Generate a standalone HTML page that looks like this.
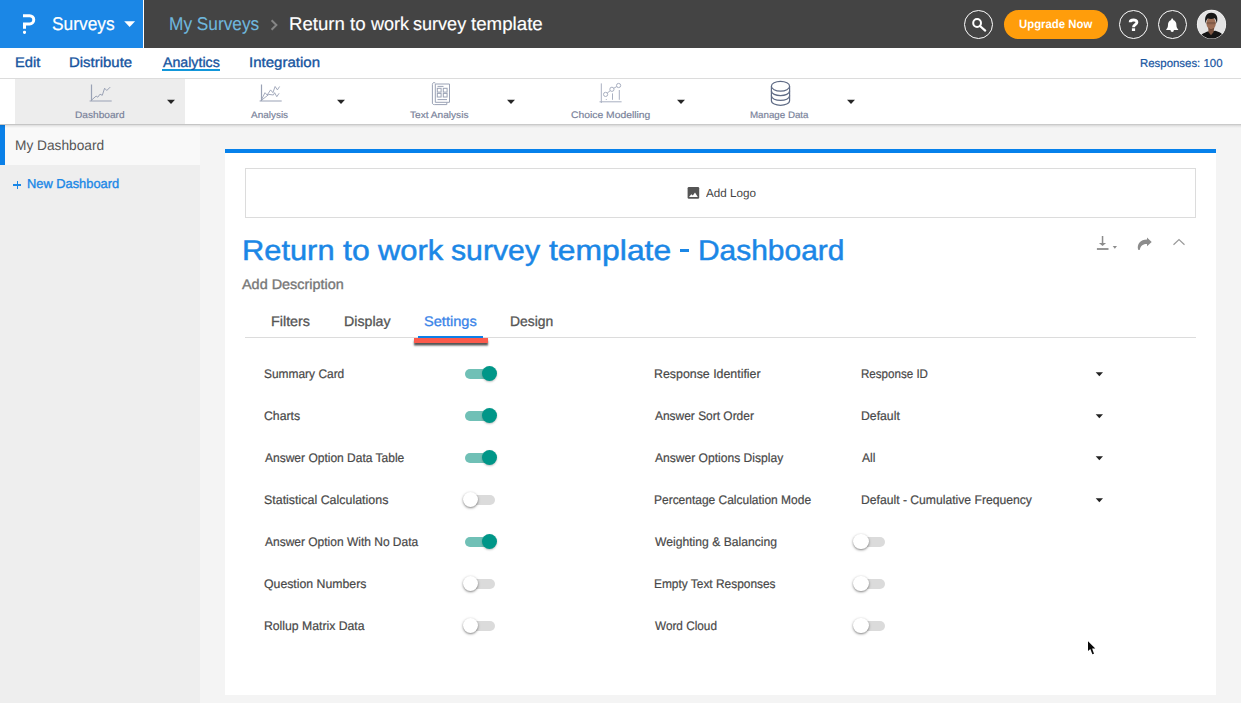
<!DOCTYPE html>
<html>
<head>
<meta charset="utf-8">
<title>Dashboard</title>
<style>
*{box-sizing:border-box;margin:0;padding:0}
html,body{width:1241px;height:703px;overflow:hidden}
body{font-family:"Liberation Sans",sans-serif;text-rendering:geometricPrecision;background:#f4f4f4;position:relative;color:#444}
.abs{position:absolute}
.t{position:absolute;white-space:nowrap;line-height:1;transform-origin:0 50%}
/* top bar */
#topbar{left:0;top:0;width:1241px;height:48px;background:#444444}
#brand{left:0;top:0;width:143px;height:48px;background:#1b87e6}
#brandsep{left:143px;top:0;width:1px;height:48px;background:#fff}
.ring{top:10px;width:29px;height:29px;border-radius:50%;border:1.2px solid #fff}
/* nav */
#nav{left:0;top:48px;width:1241px;height:31px;background:#fff;border-bottom:1px solid #dcdcdc}
#nav .t{color:#1c5ea8;font-size:14px}
/* toolbar */
#toolbar{left:0;top:79px;width:1241px;height:45px;background:#fff}
.tb{position:absolute;top:0;width:170px;height:45px}
.tb.act{background:#ececec}
.tb .lbl{position:absolute;left:0;width:140px;text-align:center;top:30px;font-size:11px;line-height:11px;color:#7b8398}
.tb .car{position:absolute;left:152px;top:20px;width:0;height:0;border-left:4px solid transparent;border-right:4px solid transparent;border-top:4px solid #222}
.tb svg{position:absolute}
/* sidebar */
#side{left:0;top:124px;width:200px;height:579px;background:#eeeeee}
#sideact{left:0;top:125px;width:200px;height:40px;background:#f9f9f9;border-left:5px solid #0a80e8}
/* card */
#card{left:225px;top:149px;width:991px;height:546px;background:#fff;border-top:4px solid #0681eb}
#logo{left:245px;top:168px;width:951px;height:50px;border:1px solid #dcdcdc;background:#fff}
#tabline{left:245px;top:337px;width:951px;height:1px;background:#dcdcdc}
.lab{font-size:13px;color:#444}
.sel .car{position:absolute;left:1095px;width:0;height:0;border-left:4px solid transparent;border-right:4px solid transparent;border-top:4px solid #222}
/* toggles */
.tg{position:absolute;width:36px;height:16px}
.tg .tr{position:absolute;left:2.5px;top:3.5px;width:29.6px;height:10px;border-radius:5px;background:#dbdbdb}
.tg .kn{position:absolute;left:0;top:0;width:15.5px;height:15.5px;border-radius:50%;background:#fff;box-shadow:0 1px 2.5px rgba(0,0,0,.5)}
.tg.on .tr{background:#70c0b6}
.tg.on .kn{left:19.4px;width:15px;height:15px;top:.2px;background:#009688;box-shadow:0 1px 2px rgba(0,0,0,.25)}
</style>
</head>
<body>
<!-- TOP BAR -->
<div class="abs" id="topbar"></div>
<div class="abs" id="brand"></div>
<div class="abs" id="brandsep"></div>
<!-- logo -->
<svg class="abs" style="left:20px;top:12px" width="20" height="24" viewBox="20 12 20 24">
 <path d="M23 15.7 H29.6 A4.15 4.15 0 0 1 29.6 24 H24.5 V28.7" fill="none" stroke="#fff" stroke-width="3" stroke-linejoin="miter"/>
 <rect x="23" y="30.7" width="3" height="3.2" rx="1.3" fill="#fff"/>
</svg>
<!-- brand caret -->
<svg class="abs" style="left:124px;top:21px" width="12" height="7" viewBox="0 0 12 7"><path d="M0.2 0.3 H11.1 L5.65 5.9 Z" fill="#fff"/></svg>
<!-- breadcrumb chevron -->
<svg class="abs" style="left:269px;top:18px" width="10" height="14" viewBox="269 18 10 14"><path d="M271.6 20.2 L276.4 25 L271.6 29.8" fill="none" stroke="#858585" stroke-width="2"/></svg>
<!-- search -->
<div class="abs ring" style="left:964px"></div>
<svg class="abs" style="left:970px;top:16px" width="18" height="18" viewBox="970 16 18 18">
 <circle cx="977.1" cy="23" r="3.9" fill="none" stroke="#fff" stroke-width="2"/>
 <path d="M980 26 L985.2 30.6" stroke="#fff" stroke-width="2.2" stroke-linecap="round"/>
</svg>
<!-- upgrade -->
<div class="abs" style="left:1004px;top:10px;width:104px;height:29px;border-radius:15px;background:#ff9d0b"></div>
<!-- help -->
<div class="abs ring" style="left:1119px"></div>
<svg class="abs" style="left:1127px;top:16px" width="14" height="17" viewBox="1127 16 14 17">
 <path d="M1130.2 22.2 C1130.2 19.4 1136.9 19 1136.9 22.3 C1136.9 24.5 1133.5 24.7 1133.5 27.2" fill="none" stroke="#fff" stroke-width="2.9"/>
 <rect x="1131.9" y="28.3" width="3.2" height="2.7" fill="#fff"/>
</svg>
<!-- bell -->
<div class="abs ring" style="left:1158px"></div>
<svg class="abs" style="left:1164px;top:17px" width="16" height="17" viewBox="1164 17 16 17">
 <path d="M1172.2 18.6 C1173 18.6 1173.3 19.2 1173.2 19.9 C1175.6 20.6 1176.4 22.6 1176.4 24.8 C1176.4 27 1177 28.3 1178.2 29.5 V30 H1166.2 V29.5 C1167.4 28.3 1168 27 1168 24.8 C1168 22.6 1168.8 20.6 1171.2 19.9 C1171.1 19.2 1171.4 18.6 1172.2 18.6 Z" fill="#fff"/>
 <path d="M1170.5 30 H1173.9 A1.7 1.9 0 0 1 1170.5 30 Z" fill="#fff"/>
</svg>
<!-- avatar -->
<svg class="abs" style="left:1196px;top:9px" width="31" height="31" viewBox="0 0 31 31">
 <defs><clipPath id="av"><circle cx="15.5" cy="15.4" r="14.2"/></clipPath></defs>
 <circle cx="15.5" cy="15.4" r="14.6" fill="#fff"/>
 <g clip-path="url(#av)">
  <rect width="31" height="31" fill="#e4e4e4"/>
  <path d="M2 31 C3.5 25.5 8 24.2 11.5 22.6 L19.5 21.8 C23 23 27.5 24 29 31 Z" fill="#151515"/>
  <path d="M12.3 18.5 L12.4 23 L15 26.2 L17.6 23 L18.3 18.5 Z" fill="#7d5541"/>
  <ellipse cx="15.1" cy="14.2" rx="4.7" ry="6.1" fill="#9d6f57"/>
  <path d="M10.6 13 H19.6 V15.2 H10.6 Z" fill="#6e4c3c" opacity=".55"/>
  <path d="M9.6 14.6 C8 8 10.4 3.8 15.2 3.8 C20.6 3.8 22.6 8 20.7 14.6 C20.4 11.8 19.6 10.2 18.6 9.3 C16.3 10.3 13.3 10 11.8 9.5 C10.6 10.6 10 12 9.6 14.6 Z" fill="#161616"/>
  <path d="M11.6 17.6 C12.8 21.2 17.6 21.2 18.7 17.6 C17.8 21.6 12.6 21.6 11.6 17.6Z" fill="#3c2820"/>
 </g>
</svg>

<!-- NAV -->
<div class="abs" id="nav"></div>
<div class="abs" style="left:162px;top:69px;width:58px;height:2px;background:#1297da"></div>

<!-- TOOLBAR -->
<div class="abs" id="toolbar"></div>
<div class="abs" style="left:15px;top:79px;width:170px;height:45px;background:#ededed"></div>
<svg class="abs" style="left:0;top:79px" width="900" height="45" viewBox="0 79 900 45">
 <path d="M167 99.7 H175 L171 104 Z" fill="#262626"/>
 <path d="M337 99.7 H345 L341 104 Z" fill="#262626"/>
 <path d="M507 99.7 H515 L511 104 Z" fill="#262626"/>
 <path d="M677 99.7 H685 L681 104 Z" fill="#262626"/>
 <path d="M847 99.7 H855 L851 104 Z" fill="#262626"/>
 <path d="M91.5 84.5 V101.5 M89.6 101 H111.7" fill="none" stroke="#9aa2b5" stroke-width="1.2"/>
 <polyline points="91.0,100.6 96.1,96.1 97.8,97.2 100.0,94.2 102.3,95.3 104.6,88.2 106.8,90.5 110.2,87.1" fill="none" stroke="#9aa2b5" stroke-width="1"/>
 <path d="M261.5 84.5 V101.5 M259.6 101 H281.7" fill="none" stroke="#9aa2b5" stroke-width="1.2"/>
 <polyline points="261.0,100.6 265.0,92.7 267.2,95.0 270.6,89.9 272.9,92.7 275.1,86.5 277.4,89.9 279.6,86.5" fill="none" stroke="#9aa2b5" stroke-width="0.9"/>
 <polyline points="261.0,100.6 268.9,94.4 273.4,95.0 274.6,92.7 276.8,96.7 279.1,93.3" fill="none" stroke="#9aa2b5" stroke-width="0.9"/>
 <g fill="none" stroke="#9aa2b5" stroke-width="1">
  <path d="M435.3 84 H449.5 V102.3 H435.3 Z"/>
  <path d="M435.3 83 C433.5 82 432.4 83 432.4 84.5 V103 C432.4 104.3 433.4 104.6 434.5 104.6 H446.8 V102.5"/>
  <rect x="437.3" y="88.3" width="3.8" height="3.8"/><rect x="443.3" y="88.3" width="3.8" height="3.8"/>
  <rect x="437.3" y="93.4" width="3.8" height="3.6"/><rect x="443.3" y="93.4" width="3.8" height="3.6"/>
  <path d="M437.5 86.4 H443.5 M437.5 99.6 H447"/>
 </g>
 <g fill="none" stroke="#a9b0c1" stroke-width="1">
  <path d="M601.3 83.4 V103 M599.5 101.8 H621.6"/>
  <circle cx="605.6" cy="94.4" r="2.1"/><circle cx="611.9" cy="89.3" r="2.1"/><circle cx="618.6" cy="85.5" r="2.1"/>
  <path d="M607.2 93.1 L610.3 90.6 M613.7 88.3 L616.8 86.5"/>
  <path d="M612.5 93.4 V99.8 M619.3 90 V99.8 M606.3 99 V99.9"/>
 </g>
 <g fill="none" stroke="#5f6b85" stroke-width="1.2">
  <ellipse cx="780.5" cy="86.2" rx="9.1" ry="4.9"/>
  <path d="M771.4 86.2 V100.4 C771.4 106.9 789.6 106.9 789.6 100.4 V86.2"/>
  <path d="M771.4 90.8 C771.4 97.2 789.6 97.2 789.6 90.8 M771.4 95.6 C771.4 102 789.6 102 789.6 95.6"/>
 </g>
</svg>

<!-- SIDEBAR -->
<div class="abs" id="side"></div>
<div class="abs" id="sideact"></div>
<div class="abs" style="left:0;top:124px;width:1241px;height:4px;background:linear-gradient(rgba(0,0,0,.21),rgba(0,0,0,.07) 45%,rgba(0,0,0,0))"></div>
<div class="abs" style="left:13.2px;top:184.2px;width:8px;height:1.4px;background:#1b87e6"></div>
<div class="abs" style="left:16.5px;top:181px;width:1.4px;height:8px;background:#1b87e6"></div>

<!-- CARD -->
<div class="abs" id="card"></div>
<div class="abs" id="logo"></div>
<svg class="abs" style="left:687px;top:186px" width="13" height="14" viewBox="687 186 13 14">
 <rect x="687.6" y="186.9" width="11.6" height="11.9" rx="1.3" fill="#555"/>
 <path d="M689 196.9 L691.3 194.2 L692.8 195.5 L695 192.6 L697.8 196.9 Z" fill="#fff"/>
</svg>
<!-- title action icons -->
<svg class="abs" style="left:1094px;top:234px" width="96" height="18" viewBox="1094 234 96 18">
 <path d="M1101.8 236.1 H1103.3 V242.9 H1106.1 L1102.55 245.9 L1098.9 242.9 H1101.8 Z" fill="#8c8c8c"/>
 <rect x="1096.9" y="248.1" width="11.6" height="1.8" fill="#8c8c8c"/>
 <path d="M1112.7 246.1 H1117 L1114.85 248.7 Z" fill="#8c8c8c"/>
 <path d="M1147 237.4 L1151.7 241.9 L1147 246.3 V244 C1143.6 243.9 1140.7 245.2 1139.7 250 L1138.1 249.8 C1136.7 244 1140.4 239.8 1147 239.6 Z" fill="#8c8c8c"/>
 <path d="M1173.5 244.8 L1179 239.5 L1184.5 244.8" fill="none" stroke="#9a9a9a" stroke-width="1.2"/>
</svg>
<div class="abs" style="left:679.6px;top:249.3px;width:9px;height:2.7px;background:#1b87e6"></div>
<div class="abs" id="tabline"></div>
<div class="abs" style="left:418px;top:336px;width:65px;height:2px;background:#0c7fe9"></div>
<div class="abs" style="left:414px;top:338px;width:73.6px;height:5px;background:#fc5a4c;box-shadow:0 2.5px 2px rgba(40,40,40,.8)"></div>
<div class="tg on" style="left:462.5px;top:365.5px"><div class="tr"></div><div class="kn"></div></div>
<div class="tg on" style="left:462.5px;top:407.5px"><div class="tr"></div><div class="kn"></div></div>
<div class="tg on" style="left:462.5px;top:449.5px"><div class="tr"></div><div class="kn"></div></div>
<div class="tg" style="left:462.5px;top:491.5px"><div class="tr"></div><div class="kn"></div></div>
<div class="tg on" style="left:462.5px;top:533.5px"><div class="tr"></div><div class="kn"></div></div>
<div class="tg" style="left:462.5px;top:575.5px"><div class="tr"></div><div class="kn"></div></div>
<div class="tg" style="left:462.5px;top:617.5px"><div class="tr"></div><div class="kn"></div></div>
<div class="tg" style="left:853px;top:533.5px"><div class="tr"></div><div class="kn"></div></div>
<div class="tg" style="left:853px;top:575.5px"><div class="tr"></div><div class="kn"></div></div>
<div class="tg" style="left:853px;top:617.5px"><div class="tr"></div><div class="kn"></div></div>
<svg class="abs" style="left:1094px;top:360px" width="12" height="160" viewBox="1094 360 12 160">
 <path d="M1095.7 372.3 H1103 L1099.35 376.3 Z" fill="#222"/>
 <path d="M1095.7 414.3 H1103 L1099.35 418.3 Z" fill="#222"/>
 <path d="M1095.7 456.3 H1103 L1099.35 460.3 Z" fill="#222"/>
 <path d="M1095.7 498.3 H1103 L1099.35 502.3 Z" fill="#222"/>
</svg>
<!-- cursor -->
<svg class="abs" style="left:1085px;top:638px" width="16" height="20" viewBox="0 0 16 20">
 <path d="M3 3.3 V12.9 L5.3 10.9 L7.4 16.3 L9 15.7 L7.1 10.6 L10.3 10.5 Z" fill="#0a0a0a" stroke="#fff" stroke-width="0.9" stroke-linejoin="round" paint-order="stroke"/>
</svg>
<div class="t" style="left:52.26px;top:15px;font-size:18.5px;color:#ffffff;-webkit-text-stroke:0.2px #ffffff;transform:scaleX(0.9385)">Surveys</div>
<div class="t" style="left:168.63px;top:15px;font-size:18.5px;color:#6fb7dd;-webkit-text-stroke:0.1px #6fb7dd;transform:scaleX(0.9340)">My Surveys</div>
<div class="t" style="left:289.29px;top:15px;font-size:18.5px;color:#ffffff;-webkit-text-stroke:0.15px #ffffff;transform:scaleX(1.0038)">Return</div>
<div class="t" style="left:349.60px;top:15px;font-size:18.5px;color:#ffffff;-webkit-text-stroke:0.15px #ffffff;transform:scaleX(1.0133)">to</div>
<div class="t" style="left:370.50px;top:15px;font-size:18.5px;color:#ffffff;-webkit-text-stroke:0.15px #ffffff;transform:scaleX(0.9769)">work</div>
<div class="t" style="left:413.02px;top:15px;font-size:18.5px;color:#ffffff;-webkit-text-stroke:0.15px #ffffff;transform:scaleX(0.9755)">survey</div>
<div class="t" style="left:471.00px;top:15px;font-size:18.5px;color:#ffffff;-webkit-text-stroke:0.15px #ffffff;transform:scaleX(1.0114)">template</div>
<div class="t" style="left:14.55px;top:55px;font-size:14px;color:#17559f;-webkit-text-stroke:0.35px #17559f;transform:scaleX(1.0478)">Edit</div>
<div class="t" style="left:69.03px;top:55px;font-size:14px;color:#17559f;-webkit-text-stroke:0.35px #17559f;transform:scaleX(1.0672)">Distribute</div>
<div class="t" style="left:162.50px;top:55px;font-size:14px;color:#17559f;-webkit-text-stroke:0.35px #17559f;transform:scaleX(1.0125)">Analytics</div>
<div class="t" style="left:248.83px;top:55px;font-size:14px;color:#17559f;-webkit-text-stroke:0.35px #17559f;transform:scaleX(1.0734)">Integration</div>
<div class="t" style="left:1140.01px;top:59px;font-size:11.5px;color:#17559f;-webkit-text-stroke:0.2px #17559f;transform:scaleX(0.9927)">Responses: 100</div>
<div class="t" style="left:75.03px;top:111px;font-size:9.5px;color:#79829a;-webkit-text-stroke:0.18px #79829a;transform:scaleX(1.0667)">Dashboard</div>
<div class="t" style="left:251.40px;top:111px;font-size:9.5px;color:#79829a;-webkit-text-stroke:0.18px #79829a;transform:scaleX(1.0486)">Analysis</div>
<div class="t" style="left:410.24px;top:111px;font-size:9.5px;color:#79829a;-webkit-text-stroke:0.18px #79829a;transform:scaleX(1.0648)">Text Analysis</div>
<div class="t" style="left:570.51px;top:111px;font-size:9.5px;color:#79829a;-webkit-text-stroke:0.18px #79829a;transform:scaleX(1.0887)">Choice Modelling</div>
<div class="t" style="left:750.18px;top:111px;font-size:9.5px;color:#79829a;-webkit-text-stroke:0.18px #79829a;transform:scaleX(1.0250)">Manage Data</div>
<div class="t" style="left:14.62px;top:138px;font-size:14px;color:#555555;transform:scaleX(0.9787)">My Dashboard</div>
<div class="t" style="left:27.41px;top:177px;font-size:13px;color:#1b87e6;-webkit-text-stroke:0.35px #1b87e6;transform:scaleX(0.9880)">New Dashboard</div>
<div class="t" style="left:705.50px;top:188px;font-size:11.8px;color:#444444;transform:scaleX(0.9900)">Add Logo</div>
<div class="t" style="left:241.54px;top:237px;font-size:28.5px;color:#1b87e6;-webkit-text-stroke:0.5px #1b87e6;transform:scaleX(1.0817)">Return</div>
<div class="t" style="left:342.70px;top:237px;font-size:28.5px;color:#1b87e6;-webkit-text-stroke:0.5px #1b87e6;transform:scaleX(1.1217)">to</div>
<div class="t" style="left:378.30px;top:237px;font-size:28.5px;color:#1b87e6;-webkit-text-stroke:0.5px #1b87e6;transform:scaleX(1.0850)">work</div>
<div class="t" style="left:451.04px;top:237px;font-size:28.5px;color:#1b87e6;-webkit-text-stroke:0.5px #1b87e6;transform:scaleX(1.0602)">survey</div>
<div class="t" style="left:548.50px;top:237px;font-size:28.5px;color:#1b87e6;-webkit-text-stroke:0.5px #1b87e6;transform:scaleX(1.1176)">template</div>
<div class="t" style="left:697.60px;top:237px;font-size:28.5px;color:#1b87e6;-webkit-text-stroke:0.5px #1b87e6;transform:scaleX(1.0500)">Dashboard</div>
<div class="t" style="left:242.10px;top:277px;font-size:14px;color:#777777;-webkit-text-stroke:0.35px #777777;transform:scaleX(1.0296)">Add Description</div>
<div class="t" style="left:271.18px;top:314px;font-size:14px;color:#555555;-webkit-text-stroke:0.3px #555555;transform:scaleX(1.0243)">Filters</div>
<div class="t" style="left:344.19px;top:314px;font-size:14px;color:#555555;-webkit-text-stroke:0.3px #555555;transform:scaleX(1.0133)">Display</div>
<div class="t" style="left:423.86px;top:314px;font-size:14px;color:#3a84e8;-webkit-text-stroke:0.3px #3a84e8;transform:scaleX(1.0429)">Settings</div>
<div class="t" style="left:509.81px;top:314px;font-size:14px;color:#555555;-webkit-text-stroke:0.3px #555555;transform:scaleX(0.9929)">Design</div>
<div class="t" style="left:1019.15px;top:18px;font-size:12px;color:#ffffff;font-weight:700;transform:scaleX(0.9474)">Upgrade Now</div>
<div class="t" style="left:264.35px;top:368px;font-size:12.5px;color:#484848;-webkit-text-stroke:0.2px #484848;transform:scaleX(0.9549)">Summary Card</div>
<div class="t" style="left:264.32px;top:410px;font-size:12.5px;color:#484848;-webkit-text-stroke:0.2px #484848;transform:scaleX(0.9800)">Charts</div>
<div class="t" style="left:265.30px;top:452px;font-size:12.5px;color:#484848;-webkit-text-stroke:0.2px #484848;transform:scaleX(0.9607)">Answer Option Data Table</div>
<div class="t" style="left:264.31px;top:494px;font-size:12.5px;color:#484848;-webkit-text-stroke:0.2px #484848;transform:scaleX(0.9944)">Statistical Calculations</div>
<div class="t" style="left:265.30px;top:536px;font-size:12.5px;color:#484848;-webkit-text-stroke:0.2px #484848;transform:scaleX(0.9587)">Answer Option With No Data</div>
<div class="t" style="left:264.32px;top:578px;font-size:12.5px;color:#484848;-webkit-text-stroke:0.2px #484848;transform:scaleX(0.9825)">Question Numbers</div>
<div class="t" style="left:264.32px;top:620px;font-size:12.5px;color:#484848;-webkit-text-stroke:0.2px #484848;transform:scaleX(0.9775)">Rollup Matrix Data</div>
<div class="t" style="left:654.11px;top:368px;font-size:12.5px;color:#484848;-webkit-text-stroke:0.2px #484848;transform:scaleX(0.9896)">Response Identifier</div>
<div class="t" style="left:655.10px;top:410px;font-size:12.5px;color:#484848;-webkit-text-stroke:0.2px #484848;transform:scaleX(0.9553)">Answer Sort Order</div>
<div class="t" style="left:655.10px;top:452px;font-size:12.5px;color:#484848;-webkit-text-stroke:0.2px #484848;transform:scaleX(0.9659)">Answer Options Display</div>
<div class="t" style="left:654.14px;top:494px;font-size:12.5px;color:#484848;-webkit-text-stroke:0.2px #484848;transform:scaleX(0.9577)">Percentage Calculation Mode</div>
<div class="t" style="left:655.10px;top:536px;font-size:12.5px;color:#484848;-webkit-text-stroke:0.2px #484848;transform:scaleX(0.9720)">Weighting &amp; Balancing</div>
<div class="t" style="left:654.15px;top:578px;font-size:12.5px;color:#484848;-webkit-text-stroke:0.2px #484848;transform:scaleX(0.9524)">Empty Text Responses</div>
<div class="t" style="left:655.10px;top:620px;font-size:12.5px;color:#484848;-webkit-text-stroke:0.2px #484848;transform:scaleX(0.9415)">Word Cloud</div>
<div class="t" style="left:861.47px;top:368px;font-size:12.5px;color:#484848;-webkit-text-stroke:0.2px #484848;transform:scaleX(0.9268)">Response ID</div>
<div class="t" style="left:861.42px;top:410px;font-size:12.5px;color:#484848;-webkit-text-stroke:0.2px #484848;transform:scaleX(0.9795)">Default</div>
<div class="t" style="left:862.40px;top:452px;font-size:12.5px;color:#484848;-webkit-text-stroke:0.2px #484848;transform:scaleX(0.9692)">All</div>
<div class="t" style="left:861.43px;top:494px;font-size:12.5px;color:#484848;-webkit-text-stroke:0.2px #484848;transform:scaleX(0.9724)">Default - Cumulative Frequency</div>

</body>
</html>
